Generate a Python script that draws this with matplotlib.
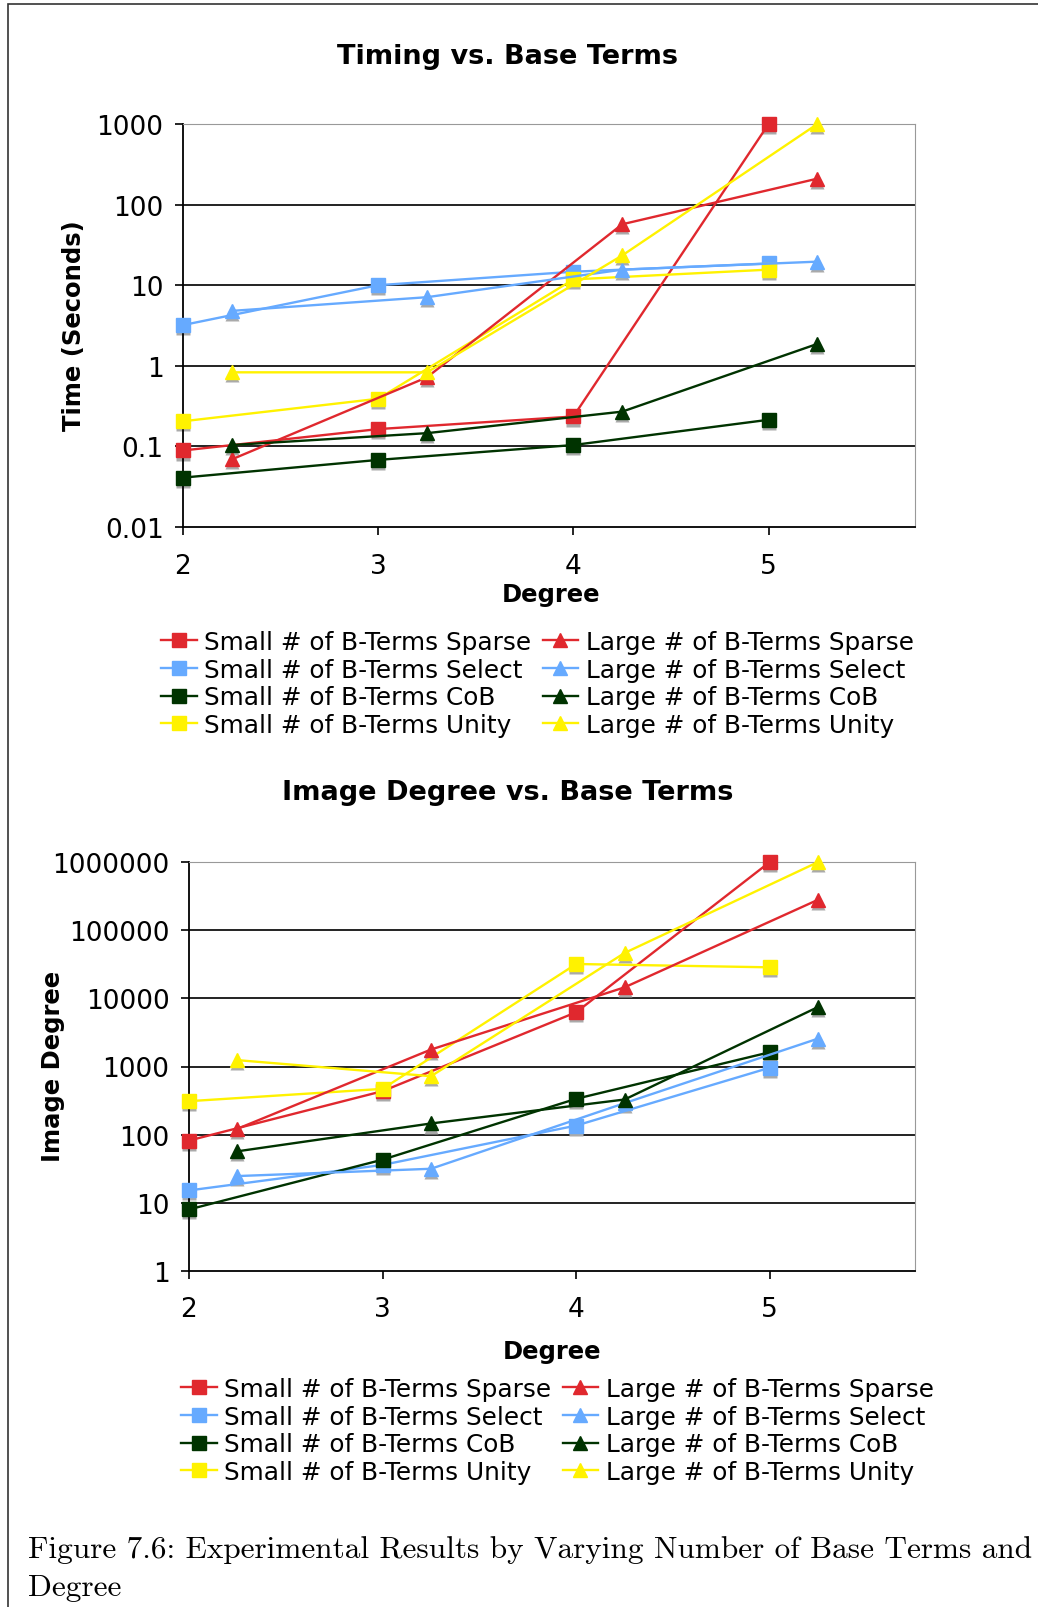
import numpy as np
import matplotlib
matplotlib.use("Agg")
import matplotlib.pyplot as plt
import matplotlib.transforms as mtransforms
from matplotlib.patches import Rectangle

# degrees; the "large" runs sit a quarter step to the right
small_x = [2, 3, 4, 5]
large_x = [2.25, 3.25, 4.25, 5.25]

methods = ["Sparse", "Select", "CoB", "Unity"]
colors = ["#e0282e", "#66aaff", "#003300", "#fff200"]

# timing (seconds)
time_small = {
    "Sparse": [0.089, 0.164, 0.235, 1000],
    "Select": [3.2, 10, 14.7, 18.6],
    "CoB": [0.041, 0.068, 0.104, 0.214],
    "Unity": [0.205, 0.39, 11.8, 15.6],
}
time_large = {
    "Sparse": [0.069, 0.72, 57, 210],
    "Select": [4.8, 7.1, 15.6, 19.6],
    "CoB": [0.104, 0.146, 0.27, 1.87],
    "Unity": [0.83, 0.83, 23.4, 1000],
}

# image degree
deg_small = {
    "Sparse": [82, 435, 6250, 1000000],
    "Select": [15.2, 36, 136, 960],
    "CoB": [8.0, 43, 336, 1620],
    "Unity": [310, 470, 31900, 28500],
}
deg_large = {
    "Sparse": [122, 1774, 14500, 280000],
    "Select": [24.7, 31.6, 290, 2570],
    "CoB": [57, 146, 328, 7480],
    "Unity": [1240, 720, 46300, 1000000],
}

time_ticks = [0.01, 0.1, 1, 10, 100, 1000]
time_labels = ["0.01", "0.1", "1", "10", "100", "1000"]
deg_ticks = [1, 10, 100, 1000, 10000, 100000, 1000000]
deg_labels = ["1", "10", "100", "1000", "10000", "100000", "1000000"]

W, H = 1038, 1608
fig = plt.figure(figsize=(W / 100, H / 100), dpi=100)
plt.rcParams["font.family"] = "DejaVu Sans"

fs_leg = 17.8
fs_tick = 19
fs_lab = 17.5
fs_title = 19.5


def fx(px):
    return px / W


def fy(py):
    return 1 - py / H


def draw(ax, small, large, ticks, labels, tickpad):
    shadow = mtransforms.ScaledTranslation(0, -2.2 / 72, fig.dpi_scale_trans)
    for m, c in zip(methods, colors):
        ax.plot(small_x, small[m], color="#aaaaaa", ls="none", marker="s", ms=9.5,
                mec="none", transform=ax.transData + shadow, zorder=2, clip_on=False)
        ax.plot(small_x, small[m], color=c, lw=1.7, marker="s", ms=9.5, mec=c,
                label="Small # of B-Terms " + m, zorder=3, clip_on=False)
    for m, c in zip(methods, colors):
        ax.plot(large_x, large[m], color="#aaaaaa", ls="none", marker="^", ms=10.5,
                mec="none", transform=ax.transData + shadow, zorder=2, clip_on=False)
        ax.plot(large_x, large[m], color=c, lw=1.7, marker="^", ms=10.5, mec=c,
                label="Large # of B-Terms " + m, zorder=3, clip_on=False)
    ax.set_yscale("log")
    ax.set_ylim(ticks[0], ticks[-1])
    ax.set_xlim(2, 5.75)
    ax.set_yticks(ticks)
    ax.set_yticklabels(labels)
    ax.minorticks_off()
    ax.set_xticks(small_x)
    ax.set_xticklabels([str(v) for v in small_x])
    for t in ticks[1:-1]:
        ax.axhline(t, color="#222222", lw=1.4, zorder=1)
    ax.spines["top"].set_color("#999999")
    ax.spines["right"].set_color("#999999")
    ax.spines["left"].set_linewidth(1.3)
    ax.spines["bottom"].set_linewidth(1.3)
    ax.tick_params(axis="y", direction="out", length=6, width=1.2, labelsize=fs_tick, pad=8)
    ax.tick_params(axis="x", direction="out", length=6, width=1.2, labelsize=fs_tick, pad=tickpad)


def legend(ax, x, y):
    h, l = ax.get_legend_handles_labels()
    fig.legend(h, l, ncol=2, loc="upper left", bbox_to_anchor=(fx(x), fy(y)),
               frameon=False, fontsize=fs_leg, handlelength=1.45, handletextpad=0.3,
               columnspacing=0.45, labelspacing=0.15, borderpad=0, borderaxespad=0)


# Timing
ax1 = fig.add_axes([fx(183), fy(528), fx(915) - fx(183), fy(125) - fy(528)])
draw(ax1, time_small, time_large, time_ticks, time_labels, 13)
fig.text(0.489, fy(57), "Timing vs. Base Terms", ha="center", va="center",
         fontsize=fs_title, fontweight="bold")
fig.text(fx(74), fy(326), "Time (Seconds)", rotation=90, ha="center", va="center",
         fontsize=fs_lab, fontweight="bold")
fig.text(fx(551), fy(595), "Degree", ha="center", va="center",
         fontsize=fs_lab, fontweight="bold")
legend(ax1, 161, 631)

# Image degree
ax2 = fig.add_axes([fx(189), fy(1272), fx(915) - fx(189), fy(863) - fy(1272)])
draw(ax2, deg_small, deg_large, deg_ticks, deg_labels, 12)
fig.text(0.489, fy(793), "Image Degree vs. Base Terms", ha="center", va="center",
         fontsize=fs_title, fontweight="bold")
fig.text(fx(53), fy(1066), "Image Degree", rotation=90, ha="center", va="center",
         fontsize=fs_lab, fontweight="bold")
fig.text(fx(552), fy(1352), "Degree", ha="center", va="center",
         fontsize=fs_lab, fontweight="bold")
legend(ax2, 181, 1378)

# caption
fig.text(fx(28), fy(1550),
         "Figure 7.6: Experimental Results by Varying Number of Base Terms and",
         ha="left", va="center", fontsize=22.5, family="cmr10")
fig.text(fx(28), fy(1588), "Degree", ha="left", va="center", fontsize=22.5, family="cmr10")

# page frame
fig.add_artist(Rectangle((fx(8), -0.01), 1.1, fy(5) + 0.01, transform=fig.transFigure,
                         fill=False, ec="#333333", lw=1.2))

fig.savefig("out.png", dpi=100)
